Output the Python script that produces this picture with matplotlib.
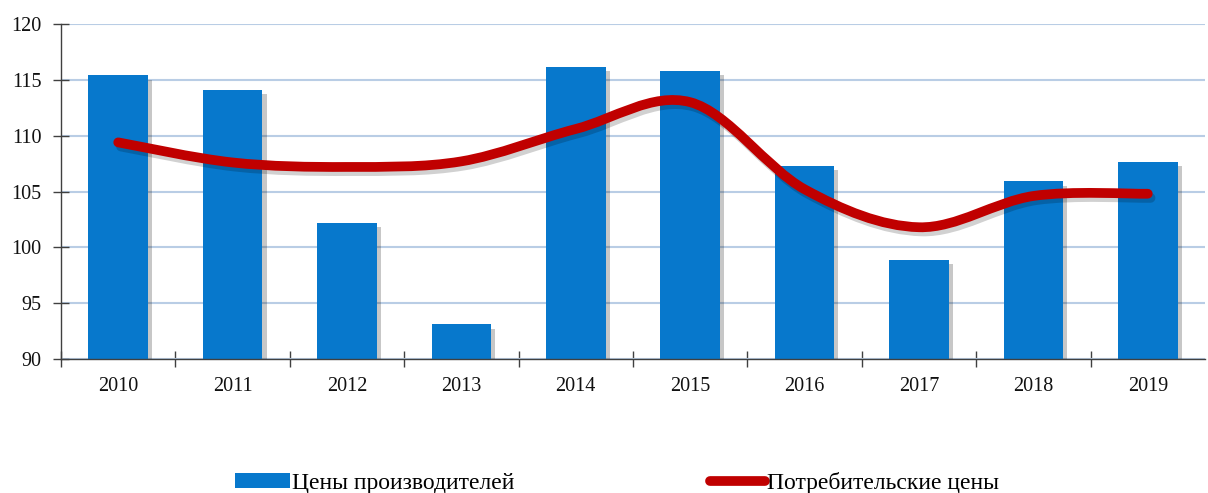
import matplotlib
matplotlib.use('Agg')
from matplotlib import pyplot as plt
from matplotlib.path import Path
from matplotlib.patches import PathPatch, Patch
from matplotlib.lines import Line2D
import matplotlib.patheffects as pe
import numpy as np

years = ['2010', '2011', '2012', '2013', '2014', '2015', '2016', '2017', '2018', '2019']
producer = [115.4, 114.1, 102.2, 93.1, 116.15, 115.8, 107.3, 98.9, 105.9, 107.65]
consumer = [109.4, 107.6, 107.2, 107.7, 110.6, 113.0, 105.2, 101.8, 104.6, 104.8]
yticks = [90, 95, 100, 105, 110, 115, 120]

plt.rcParams['font.family'] = ['Liberation Serif', 'DejaVu Serif']

BLUE = '#0778CC'
RED = '#C00000'


def smooth_path(xs, ys):
    # excel-style smoothed line: cubic bezier, catmull-rom control points
    pts = np.column_stack([xs, ys]).astype(float)
    verts = [pts[0]]
    codes = [Path.MOVETO]
    n = len(pts)
    for i in range(n - 1):
        p0 = pts[max(i - 1, 0)]
        p1 = pts[i]
        p2 = pts[i + 1]
        p3 = pts[min(i + 2, n - 1)]
        c1 = p1 + (p2 - p0) / 6.0
        c2 = p2 - (p3 - p1) / 6.0
        verts += [c1, c2, p2]
        codes += [Path.CURVE4] * 3
    return Path(verts, codes)


fig = plt.figure(figsize=(12.08, 4.93), dpi=100)
ax = fig.add_axes([0.0505, 0.2718, 0.947, 0.6795])

x = np.arange(len(years))
bars = ax.bar(x, producer, width=0.52, color=BLUE, zorder=2)
for b in bars:
    b.set_path_effects([pe.SimplePatchShadow(offset=(3, -3), shadow_rgbFace='k', alpha=0.22),
                        pe.Normal()])

line = PathPatch(smooth_path(x, consumer), facecolor='none', edgecolor=RED,
                 lw=7, capstyle='round', joinstyle='round', zorder=3)
line.set_path_effects([pe.SimpleLineShadow(offset=(2, -3), shadow_color='k', alpha=0.18),
                       pe.Normal()])
ax.add_patch(line)

ax.set_ylim(90, 120)
ax.set_xlim(-0.5, len(years) - 0.5)
ax.set_yticks(yticks)
ax.set_yticklabels([str(v) for v in yticks])
ax.yaxis.grid(True, color='#B9CDE5', lw=1.5, zorder=0)
ax.set_axisbelow(True)

ax.set_xticks(x)
ax.set_xticklabels(years)
ax.set_xticks(np.arange(-0.5, len(years) - 1, 1.0), minor=True)
ax.tick_params(axis='x', which='major', length=0, pad=13, labelsize=14.5, colors='#111111')
ax.tick_params(axis='x', which='minor', direction='inout', length=11, width=1, color='#404040')
ax.tick_params(axis='y', direction='inout', length=12, width=1, color='#404040',
               labelsize=14.5, pad=8, labelcolor='#111111')

for s in ['top', 'right']:
    ax.spines[s].set_visible(False)
for s in ['left', 'bottom']:
    ax.spines[s].set_color('#404040')
    ax.spines[s].set_linewidth(1)

handles = [Patch(facecolor=BLUE, edgecolor='none'),
           Line2D([], [], color=RED, lw=7, solid_capstyle='round')]
fig.legend(handles, ['Цены производителей', 'Потребительские цены'],
           loc='center', bbox_to_anchor=(0.511, 0.02), ncol=2, frameon=False,
           fontsize=17, handlelength=2.3, handletextpad=0.1, columnspacing=8.3,
           handleheight=0.6)

plt.savefig('out.png', dpi=100)
